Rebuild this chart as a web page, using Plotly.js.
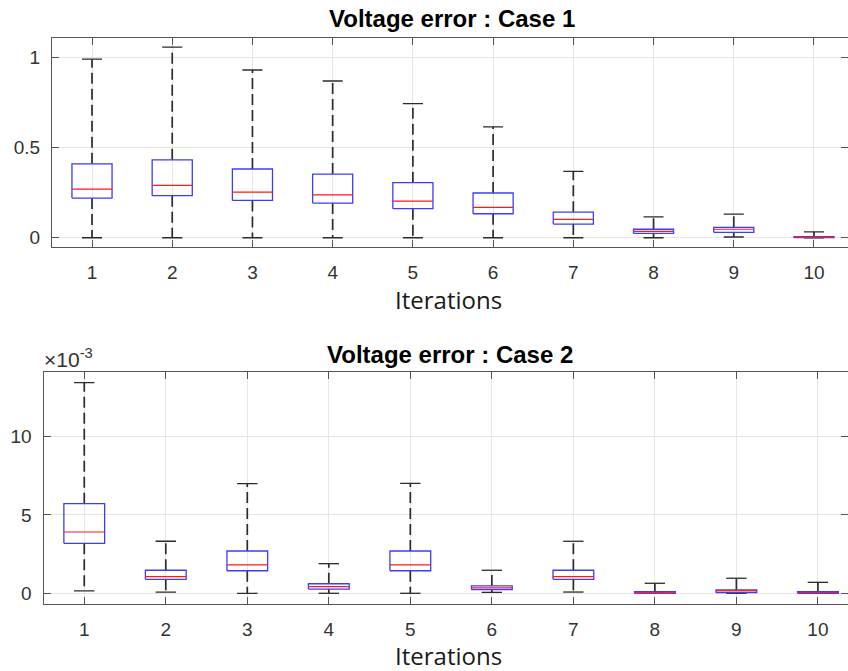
<!DOCTYPE html>
<html>
<head>
<meta charset="utf-8">
<script src="https://cdn.plot.ly/plotly-3.0.1.min.js"></script>
<style>html,body{margin:0;padding:0;background:#fff;}#chart{width:848px;height:671px;}</style>
</head>
<body>
<div id="chart"></div>
<script>
// ---- Data ----
const iterations = [1, 2, 3, 4, 5, 6, 7, 8, 9, 10];
const iterationLabels = ['1', '2', '3', '4', '5', '6', '7', '8', '9', '10'];

// Case 1 (voltage error)
const case1Upper  = [0.990, 1.057, 0.930, 0.869, 0.743, 0.615, 0.368, 0.116, 0.131, 0.032];
const case1Q3     = [0.410, 0.432, 0.381, 0.353, 0.305, 0.248, 0.142, 0.047, 0.058, 0.006];
const case1Median = [0.270, 0.290, 0.253, 0.238, 0.203, 0.168, 0.102, 0.035, 0.047, 0.003];
const case1Q1     = [0.220, 0.233, 0.207, 0.192, 0.161, 0.133, 0.076, 0.024, 0.030, 0.0005];
const case1Lower  = [0, 0, 0, 0, 0, 0, 0, 0, 0.004, 0];
const case1TickVals = [0, 0.5, 1];
const case1TickText = ['0', '0.5', '1'];

// Case 2 (voltage error, in volts; axis shown as x10^-3)
const case2Upper  = [13.44e-3, 3.32e-3, 7.00e-3, 1.89e-3, 7.02e-3, 1.47e-3, 3.32e-3, 0.64e-3, 0.96e-3, 0.70e-3];
const case2Q3     = [5.72e-3, 1.47e-3, 2.70e-3, 0.61e-3, 2.70e-3, 0.47e-3, 1.47e-3, 0.10e-3, 0.21e-3, 0.10e-3];
const case2Median = [3.91e-3, 1.06e-3, 1.81e-3, 0.42e-3, 1.81e-3, 0.35e-3, 1.06e-3, 0.03e-3, 0.15e-3, 0.05e-3];
const case2Q1     = [3.19e-3, 0.89e-3, 1.44e-3, 0.27e-3, 1.44e-3, 0.23e-3, 0.89e-3, 0.00e-3, 0.04e-3, 0.00e-3];
const case2Lower  = [0.15e-3, 0.08e-3, 0, 0, 0, 0.06e-3, 0.08e-3, 0, 0, 0];
const case2TickVals = [0, 0.005, 0.010];
const case2TickText = ['0', '5', '10'];

const titles = ['<b>Voltage error : Case 1</b>', '<b>Voltage error : Case 2</b>'];
const xTitle = 'Iterations';
const exponentLabel = '×10<sup>-3</sup>';

// ---- Styles ----
const BOX_HALF = 0.25, CAP_HALF = 0.125;
const W = 848, H = 671;

function boxTraces(xa, ya, up, q3, med, q1, lo) {
  const wx = [], wy = [], cx = [], cy = [], bx = [], by = [], mx = [], my = [];
  iterations.forEach((x, i) => {
    wx.push(x, x, null, x, x, null);
    wy.push(q3[i], up[i], null, q1[i], lo[i], null);
    cx.push(x - CAP_HALF, x + CAP_HALF, null, x - CAP_HALF, x + CAP_HALF, null);
    cy.push(up[i], up[i], null, lo[i], lo[i], null);
    bx.push(x - BOX_HALF, x + BOX_HALF, x + BOX_HALF, x - BOX_HALF, x - BOX_HALF, null);
    by.push(q1[i], q1[i], q3[i], q3[i], q1[i], null);
    mx.push(x - BOX_HALF, x + BOX_HALF, null);
    my.push(med[i], med[i], null);
  });
  const common = {type: 'scatter', mode: 'lines', xaxis: xa, yaxis: ya, hoverinfo: 'skip', showlegend: false};
  return [
    Object.assign({}, common, {x: wx, y: wy, line: {color: '#2b2b2b', width: 1.7, dash: '11px,5px'}}),
    Object.assign({}, common, {x: cx, y: cy, line: {color: '#2b2b2b', width: 1.3}}),
    Object.assign({}, common, {x: bx, y: by, line: {color: '#3c3cff', width: 1.3}}),
    Object.assign({}, common, {x: mx, y: my, line: {color: '#ff1a1a', width: 1.2}})
  ];
}

const data = [].concat(
  boxTraces('x', 'y', case1Upper, case1Q3, case1Median, case1Q1, case1Lower),
  boxTraces('x2', 'y2', case2Upper, case2Q3, case2Median, case2Q1, case2Lower)
);

const tickFont = {family: 'Liberation Sans, Arial, sans-serif', size: 19, color: '#333333'};
const xTitleFont = {family: 'Open Sans, sans-serif', size: 24, color: '#1a1a1a'};
const titleFont = {family: 'Liberation Sans, Arial, sans-serif', size: 24, color: '#000'};
function xAxis(left, end, anchor) {
  return {
    domain: [left / W, 1], range: [0.5, end], anchor: anchor,
    tickmode: 'array', tickvals: iterations, ticktext: iterationLabels,
    ticks: 'inside', ticklen: 7, tickcolor: '#555', mirror: 'allticks',
    showline: true, linecolor: '#555', linewidth: 1,
    showgrid: true, gridcolor: '#e6e6e6', zeroline: false,
    tickfont: tickFont, ticklabelstandoff: 8
  };
}
function yAxis(bottomPx, topPx, range, vals, text, anchor) {
  return {
    domain: [(H - bottomPx) / H, (H - topPx) / H], range: range, anchor: anchor,
    tickmode: 'array', tickvals: vals, ticktext: text,
    ticks: 'inside', ticklen: 7, tickcolor: '#555', mirror: 'allticks',
    showline: true, linecolor: '#555', linewidth: 1,
    showgrid: true, gridcolor: '#e6e6e6', zeroline: false,
    tickfont: tickFont, ticklabelstandoff: 7
  };
}

function paperText(text, xPx, yPx, font, xanchor, yanchor) {
  return {text: text, xref: 'paper', yref: 'paper', x: xPx / W, y: (H - yPx) / H,
          xanchor: xanchor || 'center', yanchor: yanchor || 'middle', showarrow: false, font: font, borderpad: 0};
}

const layout = {
  width: W, height: H,
  margin: {l: 0, r: 0, t: 0, b: 0},
  paper_bgcolor: '#ffffff', plot_bgcolor: '#ffffff',
  showlegend: false,
  xaxis: xAxis(51.9, 10.424, 'y'),
  yaxis: yAxis(247.3, 37.7, [-0.053, 1.109], case1TickVals, case1TickText, 'x'),
  xaxis2: xAxis(43.5, 10.369, 'y2'),
  yaxis2: yAxis(604, 371.7, [-0.683e-3, 14.14e-3], case2TickVals, case2TickText, 'x2'),
  annotations: [
    paperText(titles[0], 452, 18, titleFont),
    paperText(titles[1], 450, 354, titleFont),
    paperText(xTitle, 448, 299, xTitleFont),
    paperText(xTitle, 448, 655, xTitleFont),
    paperText(exponentLabel, 43, 372, {family: 'Liberation Sans, Arial, sans-serif', size: 21, color: '#333333'}, 'left', 'bottom')
  ]
};

Plotly.newPlot('chart', data, layout, {staticPlot: true, displayModeBar: false});
</script>
</body>
</html>
